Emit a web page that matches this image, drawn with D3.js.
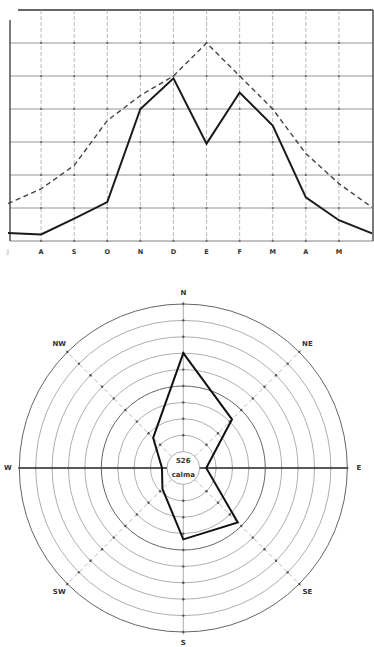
<!DOCTYPE html>
<html>
<head>
<meta charset="utf-8">
<script src="https://cdn.jsdelivr.net/npm/d3@7"></script>
<style>
  html, body { margin: 0; padding: 0; background: #fff; }
  svg { display: block; }
  text { font-family: "DejaVu Sans", "Liberation Sans", sans-serif; }
</style>
</head>
<body>
<svg id="chart" width="374" height="647"></svg>
<script>
// ---- Data: monthly curves (July .. June) ----
const monthKeys = ["Jul","Ago","Sep","Oct","Nov","Dic","Ene","Feb","Mar","Abr","May","Jun"];
const tickLabels = ["J","A","S","O","N","D","E","F","M","A","M","J"];
const solidSeries = [0.24, 0.20, 0.68, 1.18, 4.00, 4.93, 2.95, 4.50, 3.50, 1.32, 0.63, 0.23];
const dashedSeries = [1.13, 1.58, 2.29, 3.65, 4.41, 5.00, 6.00, 5.00, 4.00, 2.65, 1.74, 1.02];
const yTicks = [0, 1, 2, 3, 4, 5, 6, 7];

// ---- Data: wind rose ----
const directions = ["N","NE","E","SE","S","SW","W","NW"];
const windValues = [7.0, 4.2, 1.4, 4.7, 4.35, 1.8, 1.3, 2.6];
const rings = [1, 2, 3, 4, 5, 6, 7, 8, 9, 10];
const calmaLabel = ["526", "calma"];

const svg = d3.select("#chart");

// ================= Top line chart =================
const x = d3.scalePoint().domain(monthKeys).range([8, 372]);
const y = d3.scaleLinear().domain([0, 7]).range([241, 10]);
const gTop = svg.append("g");

// horizontal grid
gTop.selectAll("line.h").data(yTicks.slice(0, -1)).join("line")
  .attr("x1", 10).attr("x2", 373)
  .attr("y1", d => y(d)).attr("y2", d => y(d))
  .attr("stroke", d => d === 0 ? "#777" : "#8a8a8a")
  .attr("stroke-width", 0.9);
// top border
gTop.append("line")
  .attr("x1", 18).attr("x2", 373).attr("y1", y(7)).attr("y2", y(7))
  .attr("stroke", "#333").attr("stroke-width", 1.6);
// vertical grid
gTop.selectAll("line.v").data(monthKeys.slice(1, -1)).join("line")
  .attr("x1", d => x(d)).attr("x2", d => x(d))
  .attr("y1", y(7)).attr("y2", y(0))
  .attr("stroke", "#aaa").attr("stroke-width", 0.8)
  .attr("stroke-dasharray", "4,2");
// left axis & right edge
gTop.append("line").attr("x1", 10).attr("x2", 10).attr("y1", 20).attr("y2", y(0))
  .attr("stroke", "#444").attr("stroke-width", 1.4);
gTop.append("line").attr("x1", 373).attr("x2", 373).attr("y1", y(7)).attr("y2", y(0))
  .attr("stroke", "#444").attr("stroke-width", 1.4);
// intersection dots
const inter = [];
monthKeys.slice(1, -1).forEach(m => yTicks.slice(0, -1).forEach(v => inter.push([m, v])));
gTop.selectAll("circle.dot").data(inter).join("circle")
  .attr("cx", d => x(d[0])).attr("cy", d => y(d[1])).attr("r", 1.1)
  .attr("fill", "#666");

// x labels
gTop.selectAll("text.xl").data(monthKeys.slice(0, -1)).join("text")
  .attr("x", d => x(d)).attr("y", 254)
  .attr("text-anchor", "middle")
  .attr("font-size", 6.5).attr("font-weight", "bold")
  .attr("fill", (d, i) => i === 0 ? "#ccc" : "#333")
  .text((d, i) => tickLabels[i]);

// lines
const line = d3.line().x((d, i) => x(monthKeys[i])).y(d => y(d));
gTop.append("path").datum(dashedSeries).attr("d", line)
  .attr("fill", "none").attr("stroke", "#444").attr("stroke-width", 1.4)
  .attr("stroke-dasharray", "5,3.5");
gTop.append("path").datum(solidSeries).attr("d", line)
  .attr("fill", "none").attr("stroke", "#1a1a1a").attr("stroke-width", 2)
  .attr("stroke-linejoin", "miter");

// ================= Wind rose =================
const cx = 183.3, cy = 468;
const r = d3.scaleLinear().domain([0, 10]).range([0, 164]);
const rose = svg.append("g").attr("transform", `translate(${cx},${cy})`);
const ang = i => i * Math.PI / 4;
const px = (i, v) => r(v) * Math.sin(ang(i));
const py = (i, v) => -r(v) * Math.cos(ang(i));

rose.selectAll("circle.ring").data(rings).join("circle")
  .attr("r", d => r(d)).attr("fill", d => d === 1 ? "#fff" : "none")
  .attr("stroke", d => (d === 5 || d === 10) ? "#666" : "#999")
  .attr("stroke-width", d => (d === 5 || d === 10) ? 1.0 : 0.8);

// axes
directions.forEach((dir, i) => {
  const main = dir === "E" || dir === "W";
  const ns = dir === "N" || dir === "S";
  rose.append("line")
    .attr("x1", px(i, 1)).attr("y1", py(i, 1))
    .attr("x2", px(i, main ? 10 : 10.15)).attr("y2", py(i, main ? 10 : 10.15))
    .attr("stroke", main ? "#222" : (ns ? "#999" : "#a5a5a5"))
    .attr("stroke-width", main ? 1.3 : 0.8)
    .attr("stroke-dasharray", (main || ns) ? null : "4,3");
});
// dots
const rdots = [];
directions.forEach((d, i) => rings.slice(1).forEach(k => rdots.push([i, k])));
rose.selectAll("circle.rd").data(rdots).join("circle")
  .attr("cx", d => px(d[0], d[1])).attr("cy", d => py(d[0], d[1])).attr("r", 1.2)
  .attr("fill", "#555");

// direction labels
rose.selectAll("text.dir").data(directions).join("text")
  .attr("x", (d, i) => px(i, 10.7)).attr("y", (d, i) => py(i, 10.7))
  .attr("text-anchor", "middle").attr("dominant-baseline", "central")
  .attr("font-size", 7).attr("font-weight", "bold").attr("fill", "#333")
  .text(d => d);

// calma text
rose.selectAll("text.calma").data(calmaLabel).join("text")
  .attr("x", 0).attr("y", (d, i) => i === 0 ? -7 : 7)
  .attr("text-anchor", "middle").attr("dominant-baseline", "central")
  .attr("font-size", 7).attr("font-weight", "bold").attr("fill", "#333")
  .text(d => d);

// wind polygon
const radial = d3.lineRadial()
  .angle((d, i) => ang(i)).radius(d => r(d))
  .curve(d3.curveLinearClosed);
rose.append("path").datum(windValues).attr("d", radial)
  .attr("fill", "none").attr("stroke", "#111").attr("stroke-width", 2)
  .attr("stroke-linejoin", "miter");
</script>
</body>
</html>
